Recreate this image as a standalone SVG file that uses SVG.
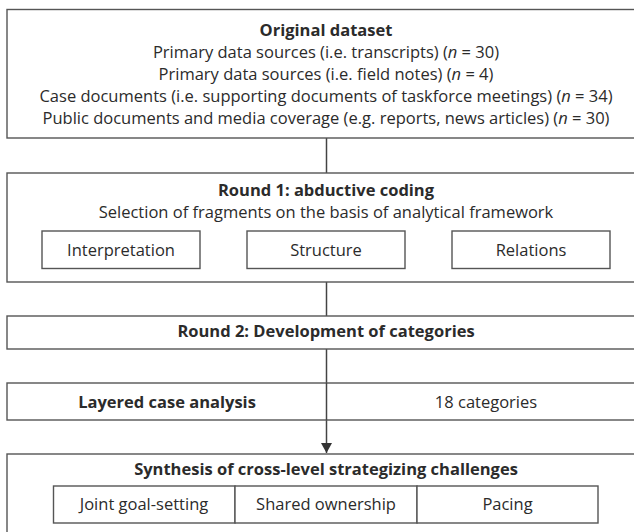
<svg xmlns="http://www.w3.org/2000/svg" width="634" height="532" viewBox="0 0 634 532">
<style>
.box{fill:#fff;stroke:#555;stroke-width:1.4}
.t{font-family:"Open Sans","Noto Sans","Liberation Sans",sans-serif;font-size:16.5px;fill:#2b2b2b;text-anchor:middle}
.b{font-weight:bold}
.c{stroke:#444;stroke-width:1.5;fill:none}
</style>
<defs>
<marker id="ah" markerWidth="12" markerHeight="12" refX="10" refY="5.5" orient="auto" markerUnits="userSpaceOnUse">
<path d="M0,0 L10,5.5 L0,11 z" fill="#333"/>
</marker>
</defs>
<rect width="634" height="532" fill="#fff"/>
<g id="connectors">
<line class="c" x1="326.5" y1="138" x2="326.5" y2="173"/>
<line class="c" x1="326.5" y1="282" x2="326.5" y2="316"/>
<line class="c" x1="326.5" y1="349" x2="326.5" y2="453" marker-end="url(#ah)"/>
</g>
<g id="original-dataset">
<rect class="box" x="7" y="9.5" width="640" height="128.5"/>
<text class="t b" x="326" y="36">Original dataset</text>
<text class="t" x="326" y="58">Primary data sources (i.e. transcripts) (<tspan font-style="italic">n</tspan> = 30)</text>
<text class="t" x="326" y="80">Primary data sources (i.e. field notes) (<tspan font-style="italic">n</tspan> = 4)</text>
<text class="t" x="326" y="102">Case documents (i.e. supporting documents of taskforce meetings) (<tspan font-style="italic">n</tspan> = 34)</text>
<text class="t" x="326" y="124">Public documents and media coverage (e.g. reports, news articles) (<tspan font-style="italic">n</tspan> = 30)</text>
</g>
<g id="round1">
<rect class="box" x="7" y="173" width="640" height="109"/>
<text class="t b" x="326" y="196">Round 1: abductive coding</text>
<text class="t" x="326" y="218">Selection of fragments on the basis of analytical framework</text>
</g>
<g id="interpretation">
<rect class="box" x="42" y="231" width="158" height="37.5"/>
<text class="t" x="121" y="256">Interpretation</text>
</g>
<g id="structure">
<rect class="box" x="247" y="231" width="158" height="37.5"/>
<text class="t" x="326" y="256">Structure</text>
</g>
<g id="relations">
<rect class="box" x="452" y="231" width="158" height="37.5"/>
<text class="t" x="531" y="256">Relations</text>
</g>
<g id="round2">
<rect class="box" x="7" y="316" width="640" height="33"/>
<text class="t b" x="326" y="337">Round 2: Development of categories</text>
</g>
<g id="layered">
<rect class="box" x="7" y="383" width="640" height="37"/>
<line class="c" x1="326.5" y1="383" x2="326.5" y2="420"/>
<text class="t b" x="167" y="408">Layered case analysis</text>
<text class="t" x="486" y="408">18 categories</text>
</g>
<g id="synthesis">
<rect class="box" x="7" y="454" width="640" height="100"/>
<text class="t b" x="326" y="475">Synthesis of cross-level strategizing challenges</text>
</g>
<g id="joint-goal-setting">
<rect class="box" x="53.5" y="486" width="181.5" height="37"/>
<text class="t" x="144" y="510">Joint goal-setting</text>
</g>
<g id="shared-ownership">
<rect class="box" x="235" y="486" width="182" height="37"/>
<text class="t" x="326" y="510">Shared ownership</text>
</g>
<g id="pacing">
<rect class="box" x="417" y="486" width="181" height="37"/>
<text class="t" x="507.5" y="510">Pacing</text>
</g>
</svg>
